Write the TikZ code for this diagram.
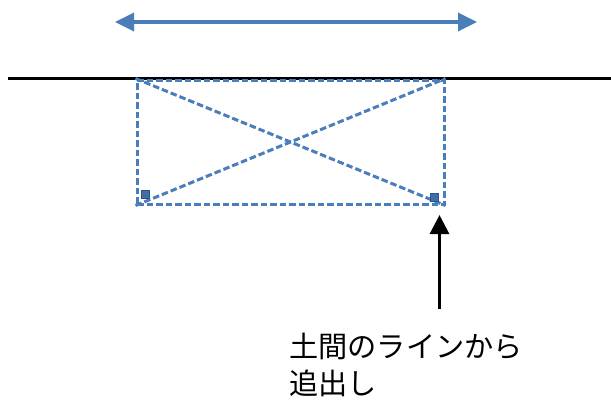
\documentclass[tikz,border=0pt]{standalone}
\usepackage{fontspec}
\newfontfamily\jp{Noto Sans CJK JP}
\usetikzlibrary{arrows.meta}
\definecolor{officeblue}{HTML}{4A7EBB}
\definecolor{sqfill}{HTML}{3F6FA8}
\definecolor{sqedge}{HTML}{2C5282}
\begin{document}
\begin{tikzpicture}[x=1pt,y=-1pt,
  bluedash/.style={draw=officeblue, line width=3pt, dash pattern=on 6.5pt off 3pt},
  cornersq/.style={draw=sqedge, fill=sqfill, line width=1pt, minimum size=8pt, inner sep=0pt},
  bluearrow/.style={draw=officeblue, line width=3.5pt, {Triangle[length=19pt,width=18pt]}-{Triangle[length=19pt,width=18pt]}},
  blackarrow/.style={draw=black, line width=3pt, -{Triangle[length=19pt,width=19pt]}},
  label/.style={font=\jp\fontsize{29.2}{37}\selectfont, align=left, inner sep=0pt, anchor=north west}
]
\useasboundingbox (0,0) rectangle (611,405);
% ground line
\coordinate (gL) at (8,78.5);
\coordinate (gR) at (611,78.5);
\draw[line width=2.2pt] (gL) -- (gR);
% double arrow
\coordinate (aL) at (115,22);
\coordinate (aR) at (477,22);
\draw[bluearrow] (aL) -- (aR);
% dashed box with diagonals
\node[bluedash, rectangle, minimum width=307pt, minimum height=124pt, inner sep=0pt] (box) at (290.5,142) {};
\draw[bluedash] (box.north west) -- (box.south east);
\draw[bluedash] (box.south west) -- (box.north east);
\node[cornersq] (sqL) at (145,194) {};
\node[cornersq] (sqR) at (434,197) {};
% black arrow
\coordinate (bS) at (439.5,309);
\coordinate (bT) at (439.5,215);
\draw[blackarrow] (bS) -- (bT);
% label
\node[label] (txt) at (289,332.5) {土間のラインから\\追出し};
\end{tikzpicture}
\end{document}
